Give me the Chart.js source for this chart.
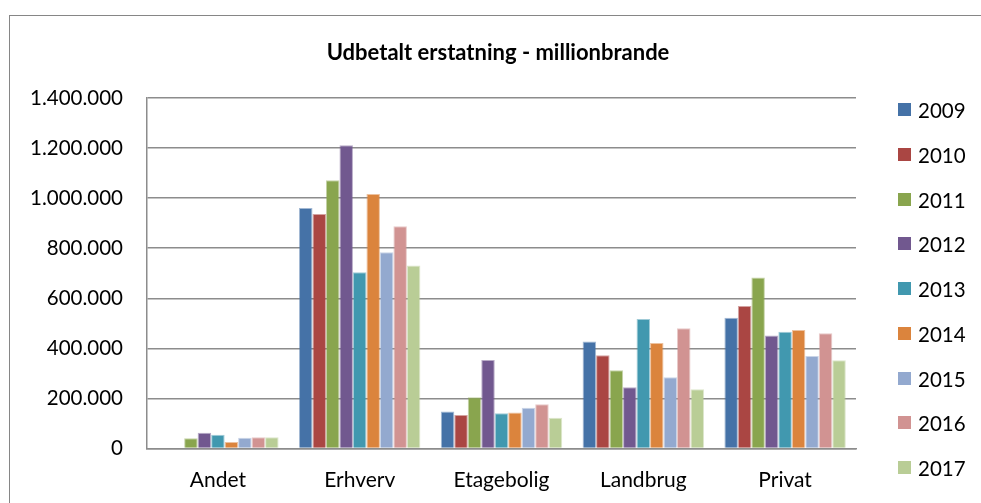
<!DOCTYPE html>
<html>
<head>
<meta charset="utf-8">
<script src="https://cdn.jsdelivr.net/npm/chart.js@4.4.1/dist/chart.umd.min.js"></script>
<style>
  html, body { margin: 0; padding: 0; background: #fff; }
  #wrap { position: relative; width: 981px; height: 503px; overflow: hidden; }
  #frame { position: absolute; left: 9px; top: 15px; width: 1000px; height: 600px;
           border-left: 1px solid #868686; border-top: 1px solid #868686; }
  #chart { position: absolute; left: 0; top: 0; }
  #legend { position: absolute; left: 898px; top: 0; font-family: Lato, sans-serif; font-size: 20.5px; color: #000; }
  .item { position: absolute; left: 0; height: 24px; line-height: 24px; white-space: nowrap; }
  .box { position: absolute; left: 0; top: 5px; width: 13px; height: 13px; }
  .lbl { position: absolute; left: 20px; top: 0; }
</style>
</head>
<body>
<div id="wrap">
  <div id="frame"></div>
  <canvas id="chart" width="981" height="503"></canvas>
  <div id="legend"></div>
</div>
<script>
// categories and years
const categories = ['Andet', 'Erhverv', 'Etagebolig', 'Landbrug', 'Privat'];
const years = ['2009', '2010', '2011', '2012', '2013', '2014', '2015', '2016', '2017'];

// udbetalt erstatning per kategori
const v2009 = [0, 961000, 148000, 427000, 522000];
const v2010 = [0, 937000, 134000, 372000, 569000];
const v2011 = [41000, 1071000, 205000, 313000, 683000];
const v2012 = [63000, 1211000, 353000, 245000, 451000];
const v2013 = [55000, 704000, 141000, 517000, 466000];
const v2014 = [26000, 1017000, 144000, 421000, 473000];
const v2015 = [43000, 784000, 163000, 285000, 369000];
const v2016 = [45000, 888000, 177000, 480000, 460000];
const v2017 = [45000, 731000, 123000, 237000, 352000];
const series = [v2009, v2010, v2011, v2012, v2013, v2014, v2015, v2016, v2017];

const colors = ['#4572A7', '#AA4643', '#89A54E', '#71588F', '#4198AF',
                '#DB843D', '#93A9CF', '#D19392', '#B9CD96'];

// y axis ticks
const yTicks = [0, 200000, 400000, 600000, 800000, 1000000, 1200000, 1400000];

function fmt(v) {
  return String(v).replace(/\B(?=(\d{3})+(?!\d))/g, '.');
}

Chart.defaults.color = '#000';
Chart.defaults.font.family = 'Lato, sans-serif';

const data = {
  labels: categories,
  datasets: years.map((y, i) => ({
    label: y,
    data: series[i],
    backgroundColor: colors[i],
    borderColor: colors[i] + '80',
    borderWidth: 1,
    categoryPercentage: 0.856,
    barPercentage: 1
  }))
};

const gridColor = '#8c8c8c';

new Chart(document.getElementById('chart'), {
  type: 'bar',
  data,
  options: {
    responsive: false,
    animation: false,
    layout: { padding: { left: 15, right: 0, top: 0, bottom: 0 } },
    plugins: {
      legend: { display: false },
      tooltip: { enabled: false },
      title: {
        display: true,
        text: 'Udbetalt erstatning - millionbrande',
        font: { size: 22, weight: 'bold' },
        color: '#000',
        padding: { top: 39.3, bottom: 32.3 }
      }
    },
    scales: {
      x: {
        grid: { display: false, drawTicks: false },
        border: { display: true, color: gridColor, width: 1.5 },
        ticks: { font: { size: 21 }, padding: 19 },
        afterFit: s => { s.height = 54.5; }
      },
      y: {
        min: 0,
        max: 1400000,
        afterBuildTicks: s => { s.ticks = yTicks.map(v => ({ value: v })); },
        grid: { color: gridColor, lineWidth: 1.5, drawTicks: false },
        border: { display: true, color: gridColor, width: 1.5 },
        ticks: { font: { size: 20.5 }, padding: 24, callback: v => fmt(v) },
        afterFit: s => { s.width = 132; }
      },
      // empty right-hand axis that reserves room for the legend
      legendSpace: {
        position: 'right',
        grid: { display: false, drawTicks: false },
        border: { display: false },
        ticks: { display: false },
        afterFit: s => { s.width = 125; }
      }
    }
  }
});

// legend as html, built from the same year / colour lists
const legend = document.getElementById('legend');
years.forEach((y, i) => {
  const it = document.createElement('div');
  it.className = 'item';
  it.style.top = (110 - 12 + i * 44.75) + 'px';
  it.innerHTML = '<span class="box" style="background:' + colors[i] + '"></span><span class="lbl">' + y + '</span>';
  legend.appendChild(it);
});
</script>
</body>
</html>
